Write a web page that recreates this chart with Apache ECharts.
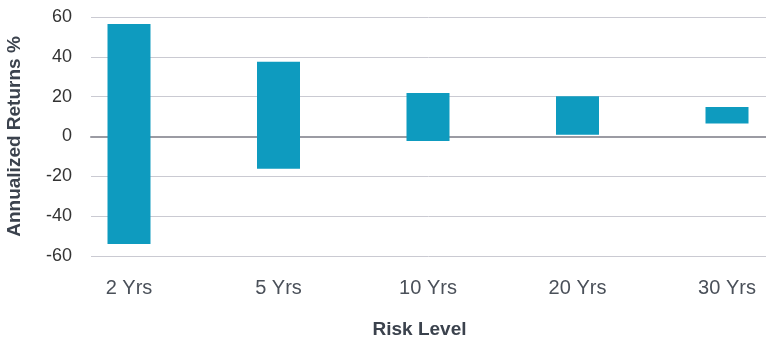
<!DOCTYPE html>
<html>
<head>
<meta charset="utf-8">
<script src="https://cdn.jsdelivr.net/npm/echarts@6/dist/echarts.min.js"></script>
<style>
html,body{margin:0;padding:0;background:#fff;}
#chart{width:766px;height:339px;}
</style>
</head>
<body>
<div id="chart"></div>
<script>
var categories = ['2 Yrs', '5 Yrs', '10 Yrs', '20 Yrs', '30 Yrs'];
var lows = [-54, -16.2, -2.2, 0.9, 6.5];
var highs = [56.5, 37.5, 21.8, 20.2, 14.8];
var yTicks = [-60, -40, -20, 0, 20, 40, 60];

var rangeData = categories.map(function (c, i) { return [i, lows[i], highs[i]]; });

var chart = echarts.init(document.getElementById('chart'));
var font = 'Liberation Sans, Arial, sans-serif';
var BAR_W = 43;
chart.setOption({
  animation: false,
  backgroundColor: '#ffffff',
  grid: [
    { left: 91, right: 0, top: 17, bottom: 83, containLabel: false, outerBoundsMode: 'none' },
    { left: 129, right: 39, top: 17, bottom: 83, containLabel: false, outerBoundsMode: 'none' }
  ],
  xAxis: [
    {
      type: 'category', gridIndex: 0, data: categories,
      axisLine: { show: true, onZero: true, lineStyle: { color: '#9b9ba3', width: 2 } },
      axisTick: { show: false }, axisLabel: { show: false }, splitLine: { show: false }
    },
    {
      type: 'category', gridIndex: 1, data: categories, boundaryGap: false,
      axisLine: { show: false, onZero: false }, axisTick: { show: false },
      axisLabel: { color: '#4a5059', fontSize: 20, fontFamily: font, margin: 22 },
      name: 'Risk Level', nameLocation: 'middle', nameGap: 64,
      nameTextStyle: { color: '#3b424d', fontSize: 19, fontWeight: 'bold', fontFamily: font, padding: [0, 17, 0, 0] }
    }
  ],
  yAxis: [
    {
      type: 'value', gridIndex: 0, min: yTicks[0], max: yTicks[yTicks.length - 1], interval: 20,
      axisLine: { show: false }, axisTick: { show: false },
      axisLabel: { color: '#333333', fontSize: 18, fontFamily: font, margin: 19 },
      splitLine: { show: true, lineStyle: { color: '#cacad2', width: 1 } },
      name: 'Annualized Returns %', nameLocation: 'middle', nameGap: 67,
      nameTextStyle: { color: '#3b424d', fontSize: 19, fontWeight: 'bold', fontFamily: font }
    },
    {
      type: 'value', gridIndex: 1, min: yTicks[0], max: yTicks[yTicks.length - 1], interval: 20,
      axisLine: { show: false }, axisTick: { show: false }, axisLabel: { show: false },
      splitLine: { show: false }
    }
  ],
  series: [
    {
      type: 'custom', xAxisIndex: 1, yAxisIndex: 1,
      data: rangeData,
      encode: { x: 0, y: [1, 2] },
      renderItem: function (params, api) {
        var lo = api.coord([api.value(0), api.value(1)]);
        var hi = api.coord([api.value(0), api.value(2)]);
        return {
          type: 'rect',
          shape: { x: lo[0] - BAR_W / 2, y: hi[1], width: BAR_W, height: lo[1] - hi[1] },
          style: { fill: '#0e9bbf' }
        };
      }
    }
  ]
});
</script>
</body>
</html>
